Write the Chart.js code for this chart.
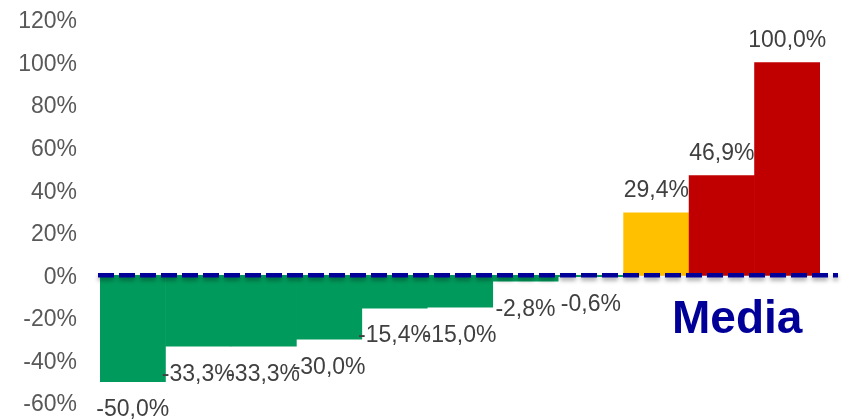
<!DOCTYPE html>
<html>
<head>
<meta charset="utf-8">
<script src="https://cdn.jsdelivr.net/npm/chart.js@4"></script>
<style>
  html, body { margin: 0; padding: 0; background: #ffffff; }
  #wrap { width: 842px; height: 420px; position: relative; }
</style>
</head>
<body>
<div id="wrap"><canvas id="c" width="842" height="420"></canvas></div>
<script>
const categories = ["1", "2", "3", "4", "5", "6", "7", "8", "9", "10", "11"];
const values = [-50.0, -33.3, -33.3, -30.0, -15.4, -15.0, -2.8, -0.6, 29.4, 46.9, 100.0];
const barColors = ["#009B5C", "#009B5C", "#009B5C", "#009B5C", "#009B5C", "#009B5C", "#009B5C", "#009B5C", "#FFC000", "#C00000", "#C00000"];
const yTicks = [-60, -40, -20, 0, 20, 40, 60, 80, 100, 120];
const averageLabel = "Media";

const FONT = "'Liberation Sans', Arial, sans-serif";

function fmt(v) {
  return v.toFixed(1).replace('.', ',') + '%';
}

const overlayPlugin = {
  id: 'overlay',
  afterDatasetsDraw(chart) {
    const ctx = chart.ctx;
    const meta = chart.getDatasetMeta(0);
    const y = chart.scales.y;
    const area = chart.chartArea;
    // value labels
    ctx.save();
    ctx.font = "23px " + FONT;
    ctx.fillStyle = "#404040";
    ctx.textAlign = "center";
    ctx.textBaseline = "middle";
    meta.data.forEach((bar, i) => {
      const v = values[i];
      const yy = v >= 0 ? bar.y - 22 : bar.y + 28;
      ctx.fillText(fmt(v), bar.x, yy);
    });
    ctx.restore();
    // zero dashed line
    const y0 = y.getPixelForValue(0);
    ctx.save();
    ctx.strokeStyle = "#000099";
    ctx.lineWidth = 4.5;
    ctx.setLineDash([16, 5]);
    ctx.shadowColor = "rgba(0,0,0,0.35)";
    ctx.shadowBlur = 4;
    ctx.shadowOffsetY = 3;
    ctx.beginPath();
    ctx.moveTo(area.left - 2, y0);
    ctx.lineTo(area.right + 18, y0);
    ctx.stroke();
    ctx.restore();
    // Media text
    ctx.save();
    ctx.font = "bold 46px " + FONT;
    ctx.fillStyle = "#000099";
    ctx.textAlign = "left";
    ctx.textBaseline = "alphabetic";
    ctx.fillText(averageLabel, area.right - 148, y0 + 58);
    ctx.restore();
  }
};

new Chart(document.getElementById('c'), {
  type: 'bar',
  data: {
    labels: categories,
    datasets: [{
      data: values,
      backgroundColor: barColors,
      borderWidth: 0,
      categoryPercentage: 1.0,
      barPercentage: 1.0
    }]
  },
  options: {
    responsive: false,
    animation: false,
    layout: { padding: { left: 0, right: 22, top: 20, bottom: 17 } },
    plugins: { legend: { display: false }, tooltip: { enabled: false } },
    scales: {
      x: { display: false },
      y: {
        min: -60, max: 120,
        afterFit(scale) { scale.width = 100; scale.paddingTop = 0; scale.paddingBottom = 0; },
        afterBuildTicks(scale) { scale.ticks = yTicks.map(v => ({ value: v })); },
        grid: { display: false },
        border: { display: false },
        ticks: {
          padding: 15,
          labelOffset: 2,
          color: "#595959",
          font: { family: FONT, size: 23 },
          callback: (v) => v + '%'
        }
      }
    }
  },
  plugins: [overlayPlugin]
});
</script>
</body>
</html>
